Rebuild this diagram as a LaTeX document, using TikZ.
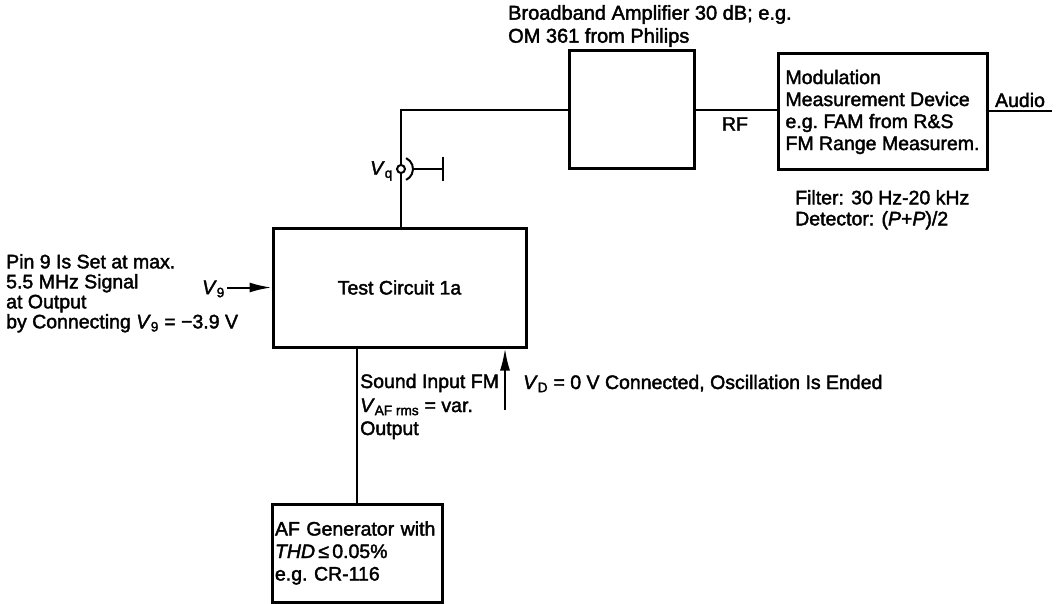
\documentclass[tikz,border=0pt]{standalone}
\usepackage{fontspec}
\setmainfont{Liberation Sans}[FakeBold=2]
\usetikzlibrary{arrows.meta}
\begin{document}
\begin{tikzpicture}[x=1pt,y=-1pt,
  font=\fontsize{19.5}{21.5}\selectfont\frenchspacing,
  box/.style={draw,line width=3pt,inner sep=0pt},
  wire/.style={line width=2pt},
  arr/.style={wire,-{Latex[length=22pt,width=10pt]}},
  lbl/.style={inner sep=0pt}]
\useasboundingbox (0,0) rectangle (1059,604);

% boxes
\node[box,minimum width=125pt,minimum height=118pt] (amp) at (631.5,110) {};
\node[box,minimum width=209pt,minimum height=116pt,align=left,
  font=\fontsize{19.5}{22}\selectfont\frenchspacing] (mod) at (882.5,112)
  {Modulation\\Measurement Device\\e.g. FAM from R\&S\\FM Range Measurem.};
\node[box,minimum width=253pt,minimum height=119pt] (test) at (399.5,287.5) {Test Circuit 1a};
\node[box,minimum width=170pt,minimum height=98pt,text width=164pt,align=left,
  font=\fontsize{19.5}{22.5}\selectfont\frenchspacing] (af) at (357,553)
  {AF Generator with\\\textit{THD}\,≤\,0.05\%\\e.g. CR-116};

% connector socket
\node[circle,draw,wire,minimum size=8pt,inner sep=0pt] (vq) at (401,169) {};
\coordinate (gndend) at (443,169);

% texts
\node[lbl,anchor=north west,align=left,font=\fontsize{20}{23}\selectfont\frenchspacing] (amptxt) at (508,5)
  {Broadband Amplifier 30 dB; e.g.\\OM 361 from Philips};
\node[lbl,anchor=north west,align=left,font=\fontsize{19.5}{21}\selectfont] (filt) at (795,190)
  {Filter: 30 Hz-20 kHz\\Detector: (\textit{P}+\textit{P})/2};
\node[lbl,anchor=north west,align=left,font=\fontsize{19.5}{20}\selectfont] (pin) at (6,254)
  {Pin 9 Is Set at max.\\5.5 MHz Signal\\at Output\\by Connecting \textit{V}\textsubscript{9} = −3.9 V};
\node[lbl,anchor=east] (vqlbl) at (393,171) {\textit{V}\textsubscript{q}};
\node[lbl,anchor=east] (v9lbl) at (225,289) {\textit{V}\textsubscript{9}};
\node[lbl] (rf) at (735,124) {RF};
\node[lbl,anchor=base] (aud) at (1020,107) {Audio};
\node[lbl,anchor=base west] (sin) at (360,388) {Sound Input FM};
\node[lbl,anchor=base west] (vaf) at (360,412) {\textit{V}\textsubscript{AF rms} = var.};
\node[lbl,anchor=base west] (outl) at (360,435) {Output};
\node[lbl,anchor=base west] (vd) at (523,389) {\textit{V}\textsubscript{D} = 0 V Connected, Oscillation Is Ended};

% wires
\coordinate (corner) at (vq.north |- amp.west);
\draw[wire] (vq.north) -- (corner) -- (amp.west);
\draw[wire] (vq.south) -- (vq.south |- test.north);
\draw[wire] (amp.east) -- (amp.east -| mod.west);
\coordinate (audend) at (1052,111);
\draw[wire] (audend -| mod.east) -- (audend);
\draw[wire] ([xshift=12pt]vq.center) -- (gndend);
\draw[wire] ([yshift=-12pt]gndend) -- ([yshift=12pt]gndend);
\draw[wire] ([shift={(-65:12)}]vq.center) arc[start angle=-65,end angle=65,radius=12];
\coordinate (v9) at (227,287.5);
\draw[arr] (v9) -- (test.west);
\draw[wire] (test.south -| af.north) -- (af.north);
\coordinate (vdbot) at (505,410);
\draw[arr] (vdbot) -- (vdbot |- test.south);
\end{tikzpicture}
\end{document}
